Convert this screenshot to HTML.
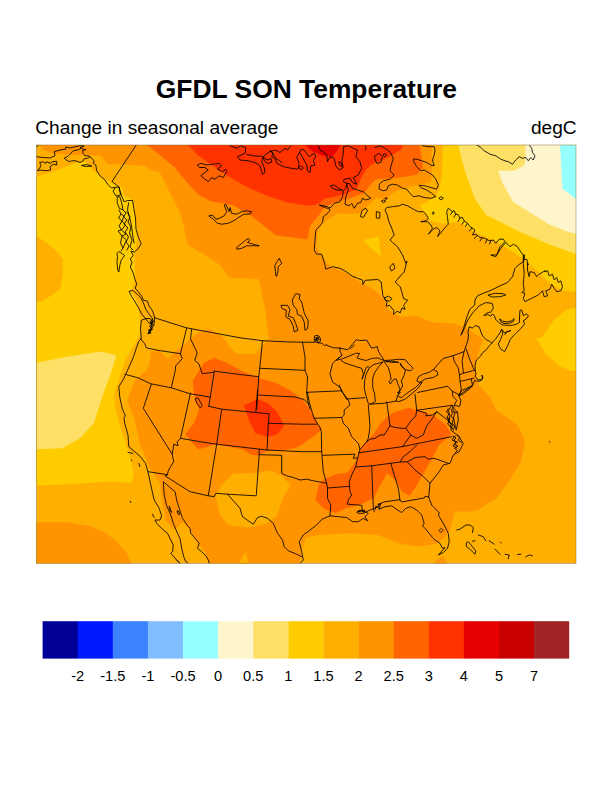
<!DOCTYPE html>
<html><head><meta charset="utf-8"><title>GFDL SON Temperature</title>
<style>
html,body{margin:0;padding:0;background:#fff;}
body{width:612px;height:792px;position:relative;overflow:hidden;font-family:"Liberation Sans",sans-serif;}
svg text{font-family:"Liberation Sans",sans-serif;fill:#000;}
</style></head><body>
<svg width="612" height="792" viewBox="0 0 612 792" style="position:absolute;left:0;top:0">
<defs><clipPath id="c"><rect x="36.3" y="145.0" width="539.7" height="418.4"/></clipPath></defs>
<g clip-path="url(#c)" shape-rendering="geometricPrecision">
<rect x="36.3" y="145.0" width="539.7" height="418.4" fill="#ffaf00"/>
<polygon fill="#ffcc00" stroke="#ffcc00" stroke-width="0.4" points="36.3,176.8 51.2,172.7 66.0,167.0 79.0,162.0 85.5,161.5 90.0,168.0 95.9,172.5 101.8,178.0 109.6,181.4 118.4,185.3 122.8,189.2 123.3,195.0 132.7,200.0 135.0,216.0 137.6,237.6 134.3,254.0 135.0,275.0 135.0,280.0 131.0,291.0 137.6,302.7 140.0,319.0 139.2,335.4 135.0,343.0 126.2,358.0 120.0,375.5 113.8,395.5 116.2,413.0 123.8,438.0 130.0,458.0 133.8,474.2 131.2,483.0 112.5,481.0 80.0,483.5 36.3,485.5"/>
<polygon fill="#ffaf00" stroke="#ffaf00" stroke-width="0.4" points="36.3,236.3 46.3,242.9 56.1,251.0 62.7,259.2 62.7,273.9 60.2,288.6 51.2,295.2 42.3,300.9 36.3,301.7"/>
<polygon fill="#ffe066" stroke="#ffe066" stroke-width="0.4" points="36.3,363.0 67.5,356.8 101.2,351.8 116.2,355.5 110.0,375.5 102.5,395.5 93.8,423.0 80.0,438.0 62.5,448.0 36.3,449.2"/>
<polygon fill="#ffcc00" stroke="#ffcc00" stroke-width="0.4" points="443.0,145.0 442.3,172.7 439.8,187.4 436.6,196.4 420.2,205.6 430.8,221.0 443.9,223.6 458.6,222.0 471.7,230.0 481.5,235.0 494.0,240.0 521.5,257.5 536.5,270.0 549.0,282.5 561.5,290.0 576.0,292.0 576.0,145.0"/>
<polygon fill="#ffe066" stroke="#ffe066" stroke-width="0.4" points="458.6,145.0 461.9,159.6 466.8,176.0 475.0,198.8 486.4,215.0 489.0,216.0 521.5,232.5 551.5,245.0 576.0,253.8 576.0,145.0"/>
<polygon fill="#fff5cc" stroke="#fff5cc" stroke-width="0.4" points="525.8,145.0 525.5,158.0 524.7,165.2 514.4,170.9 498.4,170.9 502.9,183.5 513.2,201.8 531.5,213.2 549.8,224.7 568.1,231.5 576.0,233.8 576.0,145.0"/>
<polygon fill="#96ffff" stroke="#96ffff" stroke-width="0.4" points="560.2,145.0 562.8,188.8 576.0,198.8 576.0,145.0"/>
<polygon fill="#ffcc00" stroke="#ffcc00" stroke-width="0.4" points="576.0,308.0 566.5,310.0 554.0,320.0 541.5,338.0 536.5,338.0 545.2,353.0 559.0,365.5 569.0,370.5 576.0,370.5"/>
<polygon fill="#ffcc00" stroke="#ffcc00" stroke-width="0.4" points="363.7,240.0 378.4,236.7 380.9,256.3 370.3,247.3"/>
<polygon fill="#ff9400" stroke="#ff9400" stroke-width="0.4" points="39.0,145.0 43.0,149.0 51.2,153.0 70.8,154.7 90.0,155.0 100.8,155.4 107.6,163.7 129.2,164.7 145.0,165.7 150.0,169.6 160.0,172.5 167.5,187.5 180.0,212.5 183.0,222.5 188.0,245.0 205.5,255.0 220.5,265.0 229.0,277.5 259.0,279.0 265.5,310.0 269.0,338.0 263.0,345.5 255.5,354.2 236.8,354.2 230.0,347.6 224.8,339.4 218.2,333.7 208.4,328.8 198.6,332.9 190.5,338.6 184.0,345.0 176.6,350.8 167.6,359.0 159.4,350.8 151.2,351.7 149.6,364.0 146.3,370.5 135.0,380.5 127.5,400.5 135.0,420.5 140.0,443.0 150.0,468.0 160.0,483.0 162.5,502.5 166.2,520.0 173.8,530.0 183.0,522.0 190.5,530.0 195.5,540.0 205.5,552.5 209.2,563.4 299.2,563.4 302.5,547.5 305.5,537.5 318.0,535.0 336.0,533.8 351.0,533.0 378.5,535.0 401.0,543.8 418.5,546.2 436.0,543.8 444.8,537.5 449.8,530.0 454.8,511.2 471.0,511.2 476.5,510.5 496.5,498.0 509.0,480.5 520.2,463.0 525.2,441.8 517.8,425.5 496.5,410.5 490.2,398.0 479.0,385.5 474.0,368.0 477.0,358.6 480.0,347.2 483.3,339.8 465.4,327.6 454.0,323.5 432.7,322.7 416.3,316.0 400.0,317.0 389.0,310.5 383.3,297.4 372.0,288.4 360.5,282.7 349.0,274.5 332.7,267.2 326.0,263.0 322.9,257.0 316.3,247.3 317.2,234.2 321.2,224.4 329.4,217.9 338.4,213.0 349.0,213.8 358.8,213.0 368.6,204.8 376.8,197.2 386.0,200.0 390.0,195.0 397.9,189.7 409.7,186.4 418.8,185.0 430.6,181.8 431.9,166.0 431.2,145.0"/>
<polygon fill="#ff9400" stroke="#ff9400" stroke-width="0.4" points="36.3,522.5 67.5,522.5 90.0,526.2 105.0,532.5 117.5,542.5 126.2,552.5 131.2,563.4 36.3,563.4"/>
<polygon fill="#ff9400" stroke="#ff9400" stroke-width="0.4" points="433.5,563.4 442.2,556.2 447.2,563.4"/>
<polygon fill="#ffaf00" stroke="#ffaf00" stroke-width="0.4" points="215.5,495.0 223.0,483.8 233.0,473.8 258.0,473.0 270.5,470.8 281.8,476.2 290.5,485.0 281.8,500.0 276.8,516.2 265.5,523.8 248.0,527.5 228.0,525.0 220.5,515.0"/>
<polygon fill="#ffaf00" stroke="#ffaf00" stroke-width="0.4" points="239.2,563.4 245.0,552.5 249.2,563.4"/>
<polygon fill="#ff6400" stroke="#ff6400" stroke-width="0.4" points="147.5,145.0 160.0,155.0 175.0,167.5 183.0,177.5 190.5,186.0 198.0,194.0 210.5,201.0 233.0,205.0 250.5,215.0 275.5,235.0 300.0,238.3 307.4,239.0 309.8,226.0 319.6,214.0 324.5,207.0 332.7,203.0 342.5,200.0 356.0,196.0 364.0,193.0 369.2,185.8 375.7,179.2 392.7,178.0 409.7,176.0 417.5,174.0 422.7,168.0 421.4,158.3 419.5,145.0"/>
<polygon fill="#ff6400" stroke="#ff6400" stroke-width="0.4" points="193.0,380.5 204.2,363.0 214.2,358.0 226.8,363.0 240.5,370.5 258.0,378.0 275.5,383.0 290.5,390.5 303.0,400.5 310.5,410.5 318.0,424.2 321.8,429.2 313.0,436.8 298.0,446.8 283.0,450.5 266.8,450.5 258.0,455.5 250.5,454.2 243.0,449.2 215.5,444.2 198.0,449.2 185.5,434.2 194.2,423.0 199.2,410.5 194.2,394.2"/>
<polygon fill="#ff6400" stroke="#ff6400" stroke-width="0.4" points="336.0,474.2 347.2,473.0 356.0,461.8 361.0,448.0 373.5,434.2 381.0,423.0 392.2,413.0 408.5,408.0 422.2,411.8 433.5,415.5 446.0,425.5 451.0,434.2 438.5,445.5 433.5,455.5 423.5,473.0 417.2,484.2 409.8,495.5 402.2,491.8 396.0,480.5 387.2,473.0 379.8,485.5 373.5,498.0 361.0,504.2 346.0,508.0 336.0,513.0 324.2,508.8 315.5,500.0 319.2,483.8 325.5,478.8"/>
<polygon fill="#ff3200" stroke="#ff3200" stroke-width="0.4" points="188.0,145.0 198.0,155.0 215.5,167.5 228.0,176.0 245.5,186.0 268.0,196.0 288.0,202.5 308.0,205.5 317.0,204.5 324.5,198.5 342.5,194.7 356.4,189.0 360.0,180.0 362.6,175.3 366.5,168.8 373.0,163.5 383.5,159.6 392.7,154.4 400.5,149.8 403.0,145.0"/>
<polygon fill="#ff3200" stroke="#ff3200" stroke-width="0.4" points="244.2,405.5 258.0,399.2 269.2,404.2 276.8,411.8 284.2,425.5 276.8,434.2 268.0,436.8 255.5,433.0 249.2,420.5"/>
<polygon fill="#e60000" stroke="#e60000" stroke-width="0.4" points="305.7,145.0 312.2,151.0 321.4,155.0 331.8,157.0 336.4,151.8 340.3,145.0"/>
<g fill="none" stroke="#000" stroke-width="0.85" stroke-linejoin="round" stroke-linecap="round">
<polyline points="154.7,317.8 186.3,327.8 240.0,337.8 262.5,340.7 290.0,342.0 314.2,342.3"/>
<polyline points="186.7,327.8 180.5,353.7"/>
<polyline points="191.7,329.0 190.5,338.7 197.2,352.8 194.7,360.3 198.8,363.7 202.2,373.7 213.8,372.3"/>
<polyline points="214.3,371.2 240.0,374.5 258.7,376.7"/>
<polyline points="214.3,371.2 208.8,406.2"/>
<polyline points="140.5,338.7 144.7,343.7 146.3,347.8 158.0,350.3 180.5,353.7"/>
<polyline points="180.5,353.7 182.2,358.7 175.5,366.2 175.5,369.5 171.3,387.8"/>
<polyline points="125.0,374.3 138.0,377.8 150.5,383.7 171.3,387.8 189.7,393.7 209.7,397.0"/>
<polygon points="195.5,398.7 198.0,397.8 202.2,405.3 200.5,407.8 197.2,403.7"/>
<polyline points="262.5,340.7 259.7,368.7 258.7,377.0 256.7,409.0"/>
<polyline points="259.7,368.3 305.0,370.3"/>
<polyline points="302.5,342.3 305.0,357.0 305.0,370.3 307.5,377.0 306.7,392.3"/>
<polyline points="258.0,395.0 295.0,397.0 304.2,399.5 308.3,403.7 310.0,409.0"/>
<polyline points="306.7,392.3 342.0,390.8"/>
<polyline points="306.7,392.3 307.5,400.3 308.7,404.5"/>
<polyline points="314.2,342.3 314.5,336.0 317.0,335.3 319.5,336.5 320.8,340.0 319.0,342.8 316.0,342.5 315.5,339.0 317.5,338.0 319.5,339.5 316.5,340.5 318.5,337.0 316.0,337.5 317.0,341.0 318.3,342.8 322.0,343.2 324.5,345.6 326.7,344.6 326.7,345.3 333.3,347.8 340.0,348.1"/>
<polygon points="292.5,299.5 295.8,293.7 300.0,294.5 299.2,298.7 301.7,302.0 304.2,312.8 308.3,321.2 307.5,328.7 305.0,330.3 304.2,322.0 301.7,316.2 297.5,314.5 296.7,309.5 293.3,305.3"/>
<polygon points="281.3,305.3 287.5,305.3 290.0,309.5 288.3,316.2 293.3,317.8 295.8,323.7 298.0,330.3 294.2,331.7 293.0,325.3 290.0,319.5 285.8,317.0 286.3,310.3 282.5,308.7"/>
<polyline points="342.0,355.3 335.8,360.3 332.5,363.7 330.0,373.7 332.5,382.0 340.0,387.3 342.6,392.5 346.5,399.0"/>
<polyline points="340.0,348.1 347.8,349.8 353.1,343.5 356.3,339.6 359.6,340.5 366.8,340.2 369.4,344.8 371.4,348.1 374.6,347.4 377.3,346.5 377.9,350.0 379.9,354.0 381.8,356.6 383.8,359.8 381.8,359.8 377.9,357.9 371.4,358.5 366.1,360.5 360.9,359.2 357.0,357.9 359.6,353.3 355.7,353.3 347.8,356.6 341.3,359.2 335.8,360.3 342.0,355.3 340.0,351.0 340.0,348.1"/>
<polyline points="350.5,348.7 354.5,345.0"/>
<polyline points="341.3,360.5 345.2,363.1 357.0,367.0 361.6,368.3 363.5,374.2 362.2,378.8"/>
<polyline points="362.2,378.8 366.1,367.7 368.1,366.4 369.4,367.7 366.1,374.2 364.8,379.4 364.2,387.3 365.5,393.8 368.1,403.0 370.0,404.3 375.3,401.7 374.6,393.8 372.7,387.3 372.7,378.1 374.6,372.9 377.9,367.7 379.9,365.1 383.1,361.8 379.2,363.1 374.0,364.4 369.4,367.7"/>
<polyline points="383.8,361.1 388.4,367.7 390.3,374.2 391.0,379.4 389.0,381.4 390.3,384.0 393.6,379.4 396.2,378.8 398.2,384.7 400.1,389.9 398.8,392.5"/>
<polyline points="383.8,360.5 392.3,360.0 398.8,359.2 405.4,359.8 408.0,363.1 413.2,368.3 410.6,370.9 405.4,369.6 401.4,366.4 400.1,363.1 402.0,366.0 405.4,370.3 404.0,375.5 401.4,380.8 402.7,386.0 398.8,392.5"/>
<polygon points="385.8,361.5 392.0,362.3 398.8,362.3 392.0,361.2"/>
<polygon points="398.0,392.2 399.6,391.5 400.3,393.0 398.8,394.0"/>
<polyline points="398.8,394.0 397.5,395.8 401.4,397.7 408.0,392.5 415.8,387.3 420.2,382.7 422.2,382.1 420.0,385.3 417.6,388.6 413.2,392.5 405.4,399.0 398.8,401.7 396.2,401.0 397.5,395.8"/>
<polygon points="417.0,380.8 418.3,376.8 422.8,374.2 429.4,372.3 433.3,369.6 437.2,371.6 437.9,374.9 433.3,377.5 425.5,378.8 420.2,382.1"/>
<polyline points="433.3,369.6 437.9,364.4 443.1,358.5 452.9,355.7 464.0,351.7 465.3,348.1 467.9,340.2 468.6,335.0 467.9,332.7 469.2,326.8 472.5,328.1 475.1,325.5 479.1,326.8 481.7,334.0 483.3,336.8 486.2,339.6 489.6,341.3 491.9,343.1"/>
<polyline points="346.5,399.0 364.8,397.7"/>
<polyline points="370.0,404.3 385.8,403.0 396.2,401.0"/>
<polyline points="452.9,355.7 454.2,361.1 458.1,367.7 459.4,374.2 460.1,381.4 461.4,389.9 458.8,395.8"/>
<polyline points="464.0,351.7 462.1,361.1 463.4,372.9"/>
<polyline points="466.0,348.7 469.9,359.8 473.2,367.7 474.5,370.3"/>
<polyline points="459.4,374.9 463.4,373.2 473.2,370.6 475.1,370.0"/>
<polyline points="460.1,381.4 471.2,378.8 473.8,378.1"/>
<polyline points="471.2,378.8 472.5,385.3"/>
<polyline points="501.6,329.3 499.3,333.9 495.9,338.5 491.9,343.1 489.5,345.6 486.2,349.7 483.0,352.3 480.4,356.2 476.4,360.1 475.1,365.1 475.1,370.0 476.0,373.5 475.2,376.5 477.5,379.5 481.7,380.1 483.0,377.2 481.7,375.0 482.5,378.0 480.0,381.2 476.5,381.0 474.5,380.5 472.5,385.3 467.3,388.0 461.4,390.6 458.8,395.8 460.8,400.4 460.1,405.0"/>
<polygon points="459.4,395.1 467.3,389.2 472.5,385.8 469.9,388.6 463.4,393.8 459.4,395.8"/>
<polyline points="417.6,392.5 447.7,386.2 452.3,391.2 452.9,396.4 456.8,400.4 454.2,405.0"/>
<polyline points="452.3,391.2 458.8,394.5"/>
<polyline points="475.1,300.0 474.5,305.2 469.9,309.2 467.3,315.7 465.3,322.2 463.4,328.8 460.8,335.3 461.4,334.6 464.7,327.5 467.3,320.9 472.5,313.1 479.1,305.9 485.6,302.6 492.1,303.3 493.4,307.8 490.8,312.4 489.6,312.2 486.2,313.3 483.9,315.6 487.9,314.5 490.7,316.2 492.5,313.9 494.2,315.6 495.9,319.6 498.8,322.5 501.6,324.7 506.2,325.3 511.9,325.3 516.5,324.2 519.3,322.5 519.9,310.4 521.6,309.9 523.4,315.6 526.2,313.9 528.5,315.6 526.2,319.0 523.4,320.7 524.5,324.2 521.1,328.2 516.5,332.8 511.9,337.3 510.2,339.6 507.3,346.5 504.5,351.6 500.5,348.8 498.2,344.2 500.5,339.6 502.8,333.9 501.6,329.3 504.5,332.8 510.8,330.5 506.2,332.2 505.0,334.5"/>
<polyline points="354.5,277.0 362.8,280.3 362.8,284.5 365.3,280.3 377.8,279.5 381.2,282.0 382.8,295.3 387.0,302.0 386.2,306.2 389.5,305.3 393.7,310.3 393.7,314.5 397.0,311.2 400.3,312.8 402.0,307.8 405.0,309.5 403.7,305.3 406.2,302.0 407.8,300.3 403.7,298.7 400.3,287.0 395.3,282.0 399.5,277.0"/>
<polygon points="384.5,297.8 388.7,296.2 392.0,298.7 389.5,301.2 385.7,300.3"/>
<polyline points="154.7,317.8 153.8,325.3 150.0,332.0 148.0,333.5 151.0,328.0 152.0,321.0 150.0,318.5 146.0,318.5 141.3,320.3 140.5,328.7 141.3,338.7 138.8,341.2 136.5,347.6 133.3,357.4 129.0,367.0 124.5,377.0 123.0,380.0 118.8,386.7 119.7,396.7 122.2,408.3 123.8,412.5 125.5,416.0 124.0,417.5 124.7,423.3 128.0,435.0 128.8,446.7 134.7,451.7 140.5,456.7 145.5,463.3 148.0,472.0 150.8,485.0 154.2,500.0 159.2,508.3 161.7,515.8 160.0,520.0 155.0,520.0 156.7,523.3 163.3,530.0 167.5,533.3 170.8,540.0 173.3,545.0 172.5,551.7 170.8,553.3 176.7,560.0 180.0,563.4"/>
<polyline points="151.3,384.2 143.3,408.3 172.2,454.2 173.0,458.3 173.8,461.7 170.5,466.7 168.0,471.5 167.5,474.7"/>
<polyline points="190.5,393.0 180.5,438.3 177.2,441.7 178.0,445.8 173.8,444.2 172.2,454.2"/>
<polyline points="180.5,438.3 200.0,441.7 216.7,444.2 267.0,450.0 302.0,451.7 321.7,451.7"/>
<polyline points="148.3,471.7 167.5,474.7 165.0,475.8 190.0,491.7 208.3,495.8 214.2,496.7 215.8,493.3 227.5,494.2 234.2,501.7 240.0,508.3 242.5,516.7 248.3,520.8 253.3,524.2 257.5,517.5 261.7,516.3 267.5,518.3 273.3,523.3 277.5,533.3 282.5,540.0 284.2,546.7 288.3,550.8 296.7,554.2 301.7,556.7"/>
<polyline points="128.0,452.5 133.0,453.3"/>
<polyline points="139.0,463.5 139.7,466.5"/>
<polyline points="131.0,460.0 131.8,460.5"/>
<polyline points="130.3,501.2 130.8,502.5"/>
<polyline points="152.5,514.2 153.3,516.0 154.2,517.5"/>
<polyline points="180.0,563.4 176.7,560.0"/>
<polyline points="188.3,563.4 185.8,561.7 183.7,556.7 181.7,548.3 180.0,538.3 177.5,533.3 173.3,523.3 170.8,515.0 166.7,505.8 164.2,495.0 163.3,481.7 169.2,486.7 175.0,491.7 176.7,500.0 179.2,508.3 182.5,518.3 187.5,525.8 190.0,528.3 190.8,533.3 195.8,539.2 199.2,543.3 197.5,548.3 201.7,551.7 205.8,555.8 208.3,560.0 209.2,563.4"/>
<polygon points="169.2,506.7 170.2,510.5 171.7,512.5 170.2,508.5"/>
<polygon points="177.5,510.8 179.2,512.0 179.2,515.0 177.8,513.5"/>
<polyline points="208.7,406.3 221.7,409.2 255.8,412.5 269.2,413.8 268.3,423.3 302.0,424.2 316.7,424.2"/>
<polyline points="257.5,390.0 256.7,402.0 255.8,412.5"/>
<polyline points="221.7,409.2 216.7,444.2 208.3,495.8"/>
<polyline points="268.3,423.3 267.0,450.0"/>
<polyline points="259.2,449.2 259.2,454.2 256.3,495.3"/>
<polyline points="259.7,454.7 281.7,455.3 281.7,473.3 286.7,475.8 293.3,477.5 300.0,480.0 306.7,479.2 313.3,480.8 323.3,482.5 326.7,483.3"/>
<polyline points="227.5,494.2 255.8,495.8"/>
<polyline points="306.7,392.3 307.5,392.5 309.2,401.7 312.5,413.3 314.2,418.3 320.0,427.5 321.3,431.7 321.7,451.7 323.3,471.7 326.7,483.3 327.5,488.3 327.5,498.3 330.8,505.0 330.0,515.8"/>
<polyline points="314.2,418.3 341.7,417.5"/>
<polyline points="339.2,385.0 341.7,391.3 348.3,400.0 350.0,405.0 344.2,410.0 344.2,415.0 341.7,417.5 343.3,423.3 348.3,428.3 351.7,436.7 358.3,443.3 360.0,449.2 357.5,458.3 355.8,466.7 351.7,475.0 349.2,481.7 350.0,491.7 351.7,495.0 348.3,500.0 347.5,504.2 361.7,505.3 362.5,510.8"/>
<polyline points="368.3,405.0 370.0,426.7 368.3,438.3 366.7,441.7"/>
<polyline points="386.7,401.7 390.0,425.8"/>
<polyline points="360.0,449.2 361.7,447.5 366.7,441.7 370.0,439.2 375.0,438.3 380.0,435.0 384.2,435.0 390.0,425.8 395.0,427.5 402.0,428.3 405.8,428.3 409.2,423.3 411.7,420.0 415.8,415.8 416.7,410.3 415.0,394.2"/>
<polyline points="322.5,455.3 355.0,454.2 353.3,458.3 357.5,458.0"/>
<polyline points="327.5,488.0 349.2,486.3"/>
<polyline points="358.5,452.8 402.0,446.7 451.7,436.7"/>
<polyline points="355.8,467.0 371.7,465.8 390.8,463.3 400.0,462.0"/>
<polyline points="371.7,465.8 373.3,507.5 374.2,511.7"/>
<polyline points="390.8,463.3 398.3,488.3 400.0,500.0"/>
<polyline points="378.3,504.2 385.0,501.7 400.0,499.7 401.7,502.0 424.2,498.0 425.0,496.3 428.7,497.0"/>
<polyline points="378.3,504.2 379.2,509.2"/>
<polyline points="416.7,410.3 451.7,405.3"/>
<polyline points="416.7,410.3 426.7,413.3 425.8,415.8 432.5,415.0 436.7,411.7 432.5,418.3 426.7,425.8 423.3,435.0 416.7,438.3 410.8,435.0 405.8,428.3"/>
<polyline points="410.8,435.0 405.0,443.3 402.5,446.7"/>
<polyline points="416.7,445.0 410.0,451.7 403.3,456.7 400.0,462.0 407.5,461.7 415.0,457.5 425.0,456.7 428.3,459.2 434.2,458.3 448.3,463.3"/>
<polyline points="407.5,462.0 415.0,470.0 422.5,475.8 430.0,483.3"/>
<polyline points="436.7,411.7 443.3,416.7 448.3,420.8 451.7,424.2"/>
<polyline points="452.5,405.3 453.3,412.0 457.5,412.5"/>
<polyline points="300.0,563.4 303.3,560.0 301.7,551.7 299.2,541.7 303.3,535.0 310.0,530.0 316.7,525.0 322.0,519.2 330.0,515.8 338.3,516.7 346.7,517.5 352.5,521.7 358.3,521.7 363.3,518.3 367.5,520.8 365.0,516.7 368.3,513.3 363.3,510.8 357.5,511.7 361.7,510.0 365.0,512.5 370.0,510.0 376.7,507.5 380.8,503.3 379.2,509.2 385.0,506.7 391.7,505.8 397.5,510.0 401.7,512.5 405.8,508.3 410.8,506.7 416.7,510.0 421.7,515.0 424.2,523.3 422.5,525.8 425.8,529.2 429.2,533.3 432.5,537.5 435.0,540.0 440.0,543.3 442.5,548.3 445.0,547.5 438.3,555.0 443.3,552.5 447.5,548.3 449.2,541.7 448.3,533.3 444.2,525.0 438.3,515.0 439.5,513.0 431.7,505.0 428.7,497.0 430.0,483.3 439.2,471.7 443.3,465.0 450.0,463.3 453.3,455.0 459.2,451.7 463.3,443.3 460.0,438.3 455.0,433.3 450.8,430.0 452.5,425.0 448.3,421.7 450.0,416.0 448.3,410.0 451.7,406.0"/>
<polyline points="455.0,436.0 452.0,440.0 456.0,442.0 453.0,446.0 457.0,448.0"/>
<polyline points="460.1,405.0 459.2,406.7 455.0,405.0 453.5,408.0 457.5,412.0 458.3,420.0 456.3,430.0 455.0,425.0 453.5,418.0 455.0,412.0"/>
<polygon points="439.2,530.3 441.2,528.3 443.2,530.3 441.2,532.3"/>
<polyline points="456.7,530.0 460.0,529.2 465.8,525.0 470.0,525.0 473.3,527.5 472.5,532.5"/>
<polygon points="466.7,542.5 468.3,541.7 471.7,545.8 475.8,550.8 475.0,554.2 470.8,550.0 466.7,546.7"/>
<polyline points="472.5,541.2 475.0,540.8"/>
<polyline points="478.3,535.0 483.3,536.7 485.8,540.8"/>
<polyline points="489.2,540.8 494.2,544.2"/>
<polyline points="500.5,542.2 501.2,543.0"/>
<polyline points="495.0,549.2 500.0,554.2"/>
<polyline points="505.0,554.2 509.2,555.0 508.3,558.7"/>
<polyline points="517.5,554.5 520.8,554.2"/>
<polyline points="525.8,556.7 529.2,555.0 532.5,555.8"/>
<polyline points="549.2,441.4 549.9,442.2"/>
<polygon points="499.9,319.0 502.8,321.3 507.3,321.9 511.9,320.7 514.2,318.5 513.6,321.3 510.2,323.0 505.0,323.6 501.6,322.5"/>
<polygon points="488.3,295.0 495.0,293.3 503.3,293.7 505.8,295.0 500.0,296.7 492.5,297.0"/>
<polyline points="475.1,300.0 477.5,295.8 483.3,293.3 491.7,290.0 500.0,285.8 507.5,282.5 512.5,276.7 515.0,268.3 518.3,265.0 523.3,261.7 523.3,255.0 520.0,250.8 517.5,246.7 513.3,244.2 510.0,246.7 505.8,242.5 500.8,248.3 495.8,256.7 490.8,255.0 496.7,255.0 500.0,246.7 505.0,241.7 503.3,239.2 499.2,239.2 495.8,243.3 493.3,240.0 489.2,240.8 485.0,238.3 480.0,237.5 475.8,234.2 472.5,235.0 475.0,230.0 470.0,226.7 467.5,223.3 464.2,220.8 462.0,217.0 460.0,218.3 458.0,214.5 455.8,214.2 454.0,210.5 452.5,211.7 448.3,208.3 446.7,211.7 447.5,217.5 448.3,224.2 445.8,226.7 442.5,230.8 437.5,236.7 440.0,230.8 436.7,227.5 433.3,229.2 428.3,234.2 432.5,228.3 430.8,225.0 427.5,221.7 420.8,221.7 425.8,220.8 428.3,218.3 425.8,214.2 423.3,211.7 418.3,211.7 413.3,209.2 407.5,205.8 402.5,204.2 399.2,205.8 392.5,206.7 386.7,207.5 385.0,210.0 387.5,215.8 388.3,220.0 391.7,228.3 394.2,235.0 390.0,240.0 392.5,242.5 397.5,246.7 402.5,255.0 405.8,263.3 407.0,261.0 404.2,272.0 399.5,277.0"/>
<polyline points="524.2,255.0 523.3,263.3 524.2,273.3 523.3,283.3 524.2,290.8 521.7,292.5 525.0,293.3 523.3,298.3 525.0,301.7 531.7,298.3 538.3,295.0 542.5,290.8 544.2,296.7 547.5,295.8 545.8,290.8 550.0,289.2 551.7,284.2 554.2,288.3 556.7,291.7 560.8,290.8 562.5,286.7 560.8,280.8 558.3,282.5 556.7,277.5 554.2,280.0 552.5,274.2 549.2,275.8 547.5,270.8 543.3,271.7 539.2,274.2 536.7,276.7 534.2,272.5 530.0,271.7 529.2,276.7 527.5,270.0 527.5,263.3 528.3,265.0 526.7,259.2 524.2,260.0 524.2,255.0"/>
<polyline points="544.8,270.6 545.6,271.4"/>
<polyline points="476.7,145.0 480.8,147.5 484.2,150.8 490.0,154.2 495.8,155.8 500.8,159.2 505.0,160.8 508.3,161.7 512.5,164.2 515.8,160.0 519.2,156.7 522.5,158.3 525.8,157.5 528.3,160.8 530.8,157.5 533.3,160.0 535.0,155.8 532.5,152.5 531.7,148.3 529.2,145.0"/>
<polyline points="375.0,147.5 380.0,145.8 385.0,148.3 390.0,151.7 393.3,158.3 390.8,166.7 390.0,170.8 394.2,175.0 390.0,179.2 383.3,180.8 379.2,184.2 379.2,189.2 383.3,190.8 386.7,190.0 388.3,185.8 392.5,184.2 397.5,185.0 402.5,188.3 406.7,189.2 409.2,192.5 413.3,196.7 419.2,195.8 424.2,197.5 430.8,198.3 435.8,196.7 431.7,193.3 426.7,190.0 420.8,187.5 419.2,185.3 425.0,185.8 430.8,187.5 436.7,189.2 438.3,185.0 435.8,179.2 432.5,175.0 428.3,172.5 424.2,170.0 420.8,170.8 416.7,166.7 414.2,162.5 413.3,159.2 416.7,159.2 421.7,160.8 426.7,162.5 430.8,165.0 434.2,165.8 432.5,160.0 434.2,155.0 435.0,150.0 434.2,146.7 429.2,146.7 422.5,145.8"/>
<polygon points="375.0,155.8 379.2,153.3 382.5,156.7 380.8,162.5 376.7,163.3 375.0,159.2"/>
<polygon points="383.3,154.5 385.0,153.3 386.7,155.0 385.0,156.7"/>
<polygon points="381.7,201.0 383.7,200.0 385.8,201.3 383.7,202.5"/>
<polygon points="385.0,198.3 386.3,197.5 387.5,198.5 386.3,199.2"/>
<polygon points="439.2,198.0 441.2,196.7 443.3,198.2 441.2,199.7"/>
<polygon points="432.5,213.0 433.4,211.7 434.2,213.0 433.4,214.2"/>
<polygon points="376.7,211.7 380.0,212.5 379.7,218.3 376.7,218.0"/>
<polygon points="390.0,266.7 393.3,263.3 395.0,268.3 391.7,270.8"/>
<polyline points="365.3,146.0 366.2,148.0 365.5,150.0"/>
<polygon points="346.7,183.3 348.3,190.0 345.8,196.7 345.0,204.2 349.2,205.8 351.7,203.3 354.2,208.3 357.5,203.3 360.8,202.5 362.5,198.3 365.8,200.0 370.8,198.3 366.7,195.0 363.3,191.7 357.5,190.0 352.5,188.3 350.0,184.2"/>
<polygon points="362.5,210.0 365.8,208.3 367.5,210.8 363.3,217.5 360.8,216.7"/>
<polyline points="318.3,145.8 320.0,150.0 324.2,152.5 326.7,155.0 327.5,161.7 330.0,156.7 334.2,158.3 335.8,165.8 339.2,170.0 343.3,167.5 341.7,161.7 343.3,153.3 343.3,146.7 348.3,145.8 353.3,148.3 357.5,150.0 355.8,156.7 360.0,161.7 361.7,168.3 358.3,175.0 353.3,177.5 356.7,184.2 352.5,182.5 350.0,178.3 344.2,179.2 343.3,181.7 346.7,183.3 345.8,188.3 343.3,190.8 342.5,196.7 340.0,201.7 334.2,203.3 330.8,207.5 326.7,208.3 319.2,205.0 327.5,206.7 330.0,210.0 326.7,214.2 323.3,216.7 322.5,222.5 319.2,226.7 315.8,230.0 315.0,240.0 314.2,250.0 316.7,254.2 321.7,254.2 324.2,261.7 325.8,269.2 332.5,266.7 340.0,268.3 346.7,272.0 352.3,276.1 354.5,277.0"/>
<polygon points="339.2,161.7 341.7,163.3 341.7,166.7 339.5,165.0"/>
<polygon points="330.8,185.8 334.2,185.0 340.0,189.2 342.5,190.0 336.7,190.0 332.5,188.3"/>
<polyline points="270.0,150.8 273.3,153.3 271.7,156.7 275.0,158.3 276.7,163.3 281.7,165.8 286.7,167.5 291.7,168.3 297.5,169.2 300.8,165.8 303.3,167.5 301.7,170.0 298.3,167.5 299.2,163.3 296.7,157.5 300.8,150.0 303.3,149.2 309.2,156.7 314.2,153.3 315.8,156.7 313.3,160.8 315.0,165.0 310.8,165.8 310.0,172.5 307.5,170.8 306.7,165.0 303.0,158.0 300.0,153.0"/>
<polyline points="270.0,151.7 275.0,150.0 280.0,152.5 285.0,148.3 287.5,150.0 290.8,145.8"/>
<polyline points="230.0,145.8 237.5,148.3 240.0,145.8 245.8,147.5 245.0,153.3 237.5,156.7 240.0,160.0 248.3,160.8 255.0,162.5 260.0,165.8 262.5,174.2 265.0,172.5 264.2,167.5 261.7,161.7 263.3,156.7 270.8,150.8 273.3,154.2 275.8,158.3 282.0,162.5"/>
<polyline points="246.7,154.5 255.0,156.0 262.0,156.3"/>
<polygon points="263.3,157.0 267.0,160.0 271.0,158.5 272.0,162.0 268.0,163.5 265.0,161.5"/>
<polygon points="197.5,165.0 200.8,163.3 206.7,165.0 213.3,164.2 219.2,163.3 221.7,165.8 217.5,169.2 222.5,171.7 225.8,169.2 226.7,171.7 223.3,177.5 219.2,175.8 215.0,179.2 211.7,177.5 208.3,181.7 205.0,179.2 200.8,175.8 205.0,172.5 208.3,170.0 205.0,167.5 200.0,167.5"/>
<polygon points="209.2,215.8 212.5,215.0 215.8,219.2 219.2,218.3 224.2,215.8 226.7,211.7 224.2,205.0 225.8,204.2 229.2,211.7 230.0,207.5 231.7,213.3 236.7,214.2 241.7,211.7 246.7,210.8 251.7,211.7 250.0,214.2 244.2,214.2 238.3,217.5 235.0,220.0 228.3,223.3 221.7,224.2 217.5,223.3 214.2,220.0"/>
<polygon points="236.7,247.5 240.8,244.2 245.8,240.0 248.3,238.3 250.0,240.0 247.5,242.5 253.3,244.2 259.2,245.8 253.3,245.8 246.7,245.8 241.7,248.3 237.5,249.2"/>
<polygon points="275.0,265.0 279.2,258.3 281.7,263.3 278.3,266.7 277.8,272.0 276.8,276.2 275.8,276.0 275.5,272.0"/>
<polyline points="36.3,156.7 43.3,157.5 50.0,158.0 55.0,155.8 54.2,151.7 60.0,150.0 65.8,149.2 65.8,147.0 70.0,148.0 75.8,146.7 81.7,145.3 84.2,146.3 80.0,147.5 83.3,149.2 85.8,149.7 82.5,150.3 83.0,153.3 85.0,155.8 88.3,155.8 90.0,156.7 87.5,158.3 84.2,158.7 83.3,160.8 80.0,162.5 75.8,160.8 71.7,160.8 69.2,161.7 65.8,159.7 64.2,158.0 67.5,156.7 70.0,154.2 73.3,150.8 78.3,149.7 81.0,148.5"/>
<polyline points="90.0,156.7 94.2,160.8 93.3,163.3 95.8,165.0 96.7,170.8 100.0,175.8 104.2,179.2 108.0,184.6 111.4,188.0 114.9,187.4 118.9,186.9 120.6,194.9 116.0,196.0 113.2,191.4 114.9,188.0"/>
<polygon points="81.7,165.5 86.7,164.5 91.7,166.0 87.0,166.5"/>
<polygon points="40.0,162.5 42.5,161.7 45.8,163.3 46.7,161.7 50.0,163.3 52.5,161.7 56.7,161.3 56.7,165.0 53.3,164.2 50.0,166.7 50.8,170.0 45.8,170.8 40.0,170.0 37.5,170.8 40.0,167.5 40.8,165.0"/>
<polyline points="136.3,145.0 112.0,181.5 118.9,186.9 121.2,194.9 124.0,201.7 127.5,200.6 132.6,200.4 133.8,208.6 135.5,217.8 136.0,229.2 138.3,237.2 141.2,243.5 138.3,248.6 134.3,252.1 130.9,250.9 133.2,255.5 130.3,259.0 132.0,262.4 130.3,267.0 131.9,270.0 133.5,274.0 135.1,279.8 136.8,283.9 135.1,288.0 139.2,292.9 141.7,296.1 143.3,300.2 147.4,301.0 149.0,305.9 151.5,309.2 153.1,312.5 154.7,317.8"/>
<polygon points="117.2,197.2 117.2,202.9 119.5,208.6 122.9,209.7 121.7,202.9 120.0,197.2"/>
<polyline points="128.6,202.9 127.5,209.7 129.7,217.8 131.5,225.8 132.6,234.9 134.0,243.0"/>
<polyline points="119.0,210.0 121.0,214.0 118.5,218.0 122.0,221.0 119.0,226.0 121.5,230.0 118.0,231.0 122.0,236.0 120.5,243.0 123.0,248.0 121.0,251.0"/>
<polyline points="123.0,210.0 126.0,213.0 123.5,217.0 127.0,220.0 124.0,224.0 128.0,228.0 125.0,232.0 128.5,237.0 126.0,242.0 129.0,246.0 127.0,250.0"/>
<polyline points="127.0,212.0 130.0,217.0 128.0,222.0 131.0,227.0 129.5,233.0 132.0,240.0 130.0,247.0 133.0,250.0"/>
<polyline points="121.0,214.0 124.0,216.0 122.0,221.0 125.5,225.0 121.5,230.0 126.0,234.0 122.0,236.0 126.5,240.0 123.0,248.0"/>
<polygon points="117.2,253.2 118.9,251.5 124.6,255.5 121.2,260.1 120.0,264.7 118.8,272.0 117.7,270.0 117.0,262.0 117.5,257.0"/>
<polygon points="129.4,291.2 132.7,290.4 137.6,294.5 140.8,297.8 143.3,302.7 145.8,309.2 149.0,314.1 152.3,318.2 153.1,322.3 149.8,323.9 145.8,319.0 141.7,314.1 138.4,307.6 135.1,301.9 131.9,297.0"/>
<polyline points="36.3,147.5 37.5,145.8 38.5,145.0"/>
<polyline points="448.0,409.0 446.5,412.0 449.0,414.0 447.0,417.0 450.0,419.0 448.5,422.0 451.5,424.0 450.0,427.0 453.0,429.0"/>
<polyline points="451.0,409.0 452.5,413.0 451.0,416.0 453.5,419.0 452.0,423.0 454.5,426.0 453.5,430.0"/>
<polyline points="447.0,418.0 449.5,421.0 447.5,424.0 451.0,426.5"/>
<polyline points="453.0,436.0 456.0,438.0 453.5,440.5 457.5,442.0 454.0,444.5 458.0,446.0 454.5,448.5 457.5,450.5 455.0,453.0"/>
<polyline points="457.0,434.5 460.0,437.5 458.0,440.0 461.5,442.5"/>
<polyline points="452.5,211.7 450.5,214.5"/>
<polyline points="455.8,214.2 453.8,217.3"/>
<polyline points="460.0,218.3 458.0,221.5"/>
<polyline points="464.2,221.0 462.0,224.3"/>
<polyline points="467.5,223.3 465.5,226.5"/>
<polyline points="472.0,228.0 469.5,231.0"/>
<polyline points="477.0,235.5 474.5,238.5"/>
<polyline points="482.0,237.8 480.0,241.0"/>
<polyline points="487.0,239.5 485.5,243.0"/>
<polyline points="491.0,240.5 489.5,244.0"/>
<polygon points="357.0,512.2 359.3,510.4 362.8,511.0 364.5,509.9 363.9,513.3 359.3,513.3"/>
<polyline points="375.3,509.3 375.9,505.9 377.6,507.6"/>
<polyline points="153.9,320.7 151.0,323.0 153.5,325.0 150.5,327.5 152.5,329.5 149.5,331.0 151.0,333.0 148.0,333.5"/>
<polyline points="152.0,319.5 150.0,322.0 152.3,324.0 149.5,326.0 151.5,328.5 148.5,330.0 150.0,332.5"/>
</g>
</g>
<rect x="36.3" y="145.0" width="539.7" height="418.4" fill="none" stroke="#7a6424" stroke-width="0.45"/>
<rect x="42.60" y="621.2" width="35.41" height="37.4" fill="#000096"/>
<rect x="77.71" y="621.2" width="35.41" height="37.4" fill="#0019ff"/>
<rect x="112.81" y="621.2" width="35.41" height="37.4" fill="#3c82ff"/>
<rect x="147.92" y="621.2" width="35.41" height="37.4" fill="#82beff"/>
<rect x="183.03" y="621.2" width="35.41" height="37.4" fill="#96ffff"/>
<rect x="218.13" y="621.2" width="35.41" height="37.4" fill="#fff5cc"/>
<rect x="253.24" y="621.2" width="35.41" height="37.4" fill="#ffe066"/>
<rect x="288.35" y="621.2" width="35.41" height="37.4" fill="#ffcc00"/>
<rect x="323.45" y="621.2" width="35.41" height="37.4" fill="#ffaf00"/>
<rect x="358.56" y="621.2" width="35.41" height="37.4" fill="#ff9400"/>
<rect x="393.67" y="621.2" width="35.41" height="37.4" fill="#ff6400"/>
<rect x="428.77" y="621.2" width="35.41" height="37.4" fill="#ff3200"/>
<rect x="463.88" y="621.2" width="35.41" height="37.4" fill="#e60000"/>
<rect x="498.99" y="621.2" width="35.41" height="37.4" fill="#c80000"/>
<rect x="534.09" y="621.2" width="35.11" height="37.4" fill="#a02323"/>
<text x="77.71" y="680.8" font-size="14.6" text-anchor="middle">-2</text>
<text x="112.81" y="680.8" font-size="14.6" text-anchor="middle">-1.5</text>
<text x="147.92" y="680.8" font-size="14.6" text-anchor="middle">-1</text>
<text x="183.03" y="680.8" font-size="14.6" text-anchor="middle">-0.5</text>
<text x="218.13" y="680.8" font-size="14.6" text-anchor="middle">0</text>
<text x="253.24" y="680.8" font-size="14.6" text-anchor="middle">0.5</text>
<text x="288.35" y="680.8" font-size="14.6" text-anchor="middle">1</text>
<text x="323.45" y="680.8" font-size="14.6" text-anchor="middle">1.5</text>
<text x="358.56" y="680.8" font-size="14.6" text-anchor="middle">2</text>
<text x="393.67" y="680.8" font-size="14.6" text-anchor="middle">2.5</text>
<text x="428.77" y="680.8" font-size="14.6" text-anchor="middle">3</text>
<text x="463.88" y="680.8" font-size="14.6" text-anchor="middle">4</text>
<text x="498.99" y="680.8" font-size="14.6" text-anchor="middle">5</text>
<text x="534.09" y="680.8" font-size="14.6" text-anchor="middle">7</text>
<text x="306.4" y="98.1" font-size="26.4" font-weight="bold" text-anchor="middle">GFDL SON Temperature</text>
<text x="35.3" y="134.3" font-size="19.1">Change in seasonal average</text>
<text x="576.6" y="134.3" font-size="19.1" text-anchor="end">degC</text>
</svg>
</body></html>
